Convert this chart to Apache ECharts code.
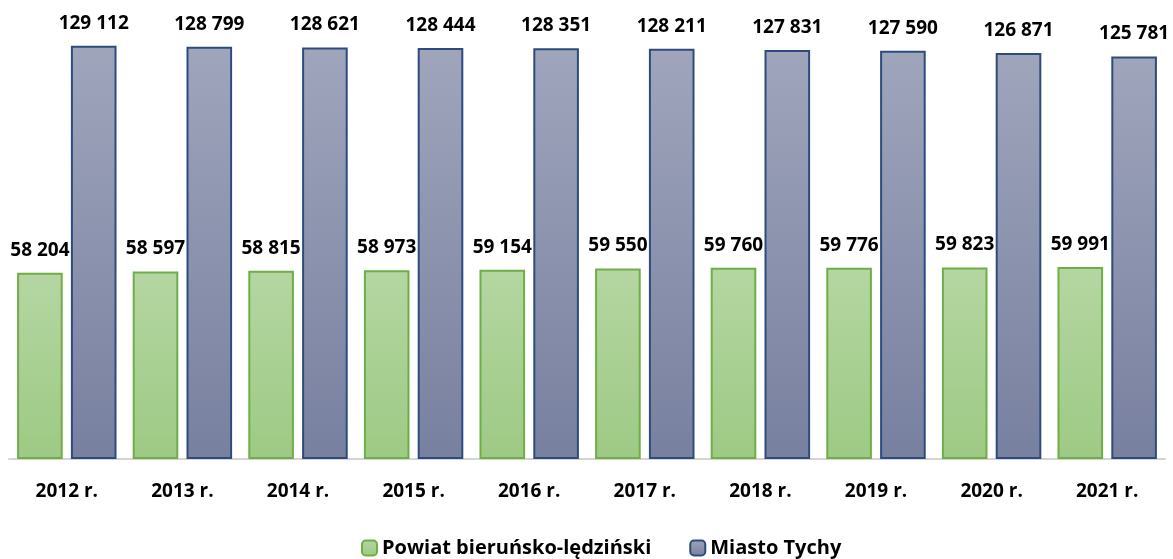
<!DOCTYPE html>
<html>
<head>
<meta charset="utf-8">
<script src="https://cdn.jsdelivr.net/npm/echarts@6/dist/echarts.min.js"></script>
<style>
  html, body { margin: 0; padding: 0; background: #fff; }
  #main { width: 1173px; height: 559px; }
</style>
</head>
<body>
<div id="main"></div>
<script>
// dane
var years = ['2012 r.', '2013 r.', '2014 r.', '2015 r.', '2016 r.', '2017 r.', '2018 r.', '2019 r.', '2020 r.', '2021 r.'];
var powiat = [58204, 58597, 58815, 58973, 59154, 59550, 59760, 59776, 59823, 59991];
var tychy = [129112, 128799, 128621, 128444, 128351, 128211, 127831, 127590, 126871, 125781];

var fontFamily = '"Open Sans", "Liberation Sans", sans-serif';

function fmt(v) {
  return String(v).replace(/\B(?=(\d{3})+(?!\d))/g, ' ');
}

function grad(top, bottom) {
  return new echarts.graphic.LinearGradient(0, 0, 0, 1, [
    { offset: 0, color: top },
    { offset: 1, color: bottom }
  ]);
}

var myChart = echarts.init(document.getElementById('main'));

var labelStyle = {
  show: true,
  position: 'top',
  distance: 13,
  color: '#000',
  fontFamily: fontFamily,
  fontWeight: 'bold',
  fontSize: 19,
  formatter: function (p) { return fmt(p.value); }
};

var option = {
  animation: false,
  grid: {
    left: 9,
    right: 8,
    top: 11,
    bottom: 100
  },
  legend: {
    top: 538,
    left: 361,
    padding: 0,
    itemWidth: 15,
    itemHeight: 15,
    itemGap: 38,
    selectedMode: false,
    textStyle: {
      color: '#000',
      fontFamily: fontFamily,
      fontWeight: 'bold',
      fontSize: 20
    },
    data: ['Powiat bieruńsko-lędziński', 'Miasto Tychy']
  },
  xAxis: {
    type: 'category',
    data: years,
    axisTick: { show: false },
    axisLine: { lineStyle: { color: '#d4d4d4', width: 2 } },
    axisLabel: {
      margin: 23,
      color: '#000',
      fontFamily: fontFamily,
      fontWeight: 'bold',
      fontSize: 19
    }
  },
  yAxis: {
    type: 'value',
    min: 0,
    max: 140000,
    show: false,
    splitLine: { show: false }
  },
  series: [
    {
      name: 'Powiat bieruńsko-lędziński',
      type: 'bar',
      data: powiat,
      barGap: '18%',
      barCategoryGap: '14%',
      itemStyle: {
        color: grad('#b5d6a2', '#9dca84'),
        borderColor: '#6fad47',
        borderWidth: 2
      },
      label: labelStyle
    },
    {
      name: 'Miasto Tychy',
      type: 'bar',
      data: tychy,
      barGap: '18%',
      barCategoryGap: '14%',
      itemStyle: {
        color: grad('#9fa5bb', '#7880a0'),
        borderColor: '#2f4b7d',
        borderWidth: 2
      },
      label: labelStyle
    }
  ]
};

myChart.setOption(option);
</script>
</body>
</html>
